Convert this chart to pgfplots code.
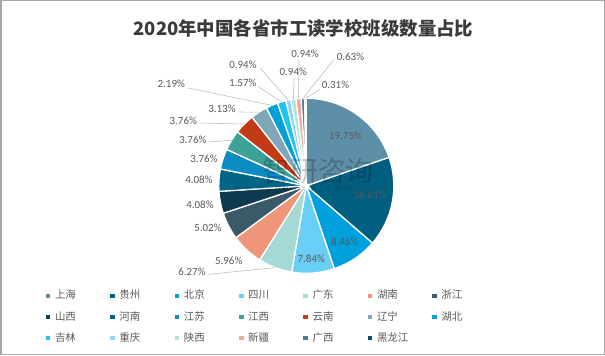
\documentclass[border=0pt]{standalone}
\usepackage{pgfplots}
\pgfplotsset{compat=1.18}
\usepackage{pgfplotstable}
\usepackage{fontspec}
\setmainfont{Carlito}
\newfontfamily\cjk{Noto Sans CJK SC}
\definecolor{c0}{HTML}{5E8FA9}
\definecolor{c1}{HTML}{005F80}
\definecolor{c2}{HTML}{00A0DC}
\definecolor{c3}{HTML}{6ACFF6}
\definecolor{c4}{HTML}{A4D9D6}
\definecolor{c5}{HTML}{EE957A}
\definecolor{c6}{HTML}{3B5A69}
\definecolor{c7}{HTML}{0D3A4F}
\definecolor{c8}{HTML}{006587}
\definecolor{c9}{HTML}{0B8DC4}
\definecolor{c10}{HTML}{3DA198}
\definecolor{c11}{HTML}{C23B16}
\definecolor{c12}{HTML}{7EA7BA}
\definecolor{c13}{HTML}{00A0D8}
\definecolor{c14}{HTML}{1DC3F3}
\definecolor{c15}{HTML}{8CD8F7}
\definecolor{c16}{HTML}{B6E1DF}
\definecolor{c17}{HTML}{F3AA95}
\definecolor{c18}{HTML}{4E7B8F}
\definecolor{c19}{HTML}{02516E}
\definecolor{labgray}{HTML}{595959}
\definecolor{linegray}{HTML}{BFBFBF}
\definecolor{titlegray}{HTML}{3A3A3A}
\definecolor{framegray}{HTML}{A6A6A6}
\newcommand\labfont{\fontsize{11}{12}\selectfont}
\pgfplotstableread[col sep=comma]{
val,lx,ly,sx,sy,hl
19.75,345.5,135.7,0,0,0
16.61,370,195,0,0,0
8.46,344.7,241.7,0,0,0
7.84,311.3,259,0,0,0
6.27,192,271.7,208.7,274.3,1
5.96,228.7,260.7,0,0,0
5.02,208,228,0,0,0
4.08,200,205,0,0,0
4.08,199,180,0,0,0
3.76,204,159,0,0,0
3.76,192.8,140,208.3,142,1
3.76,183.3,120.7,200,123,1
3.13,222,109.3,238.3,112,1
2.19,171.3,84,188.3,88,1
1.57,242.8,83.3,258.3,86.7,1
0.94,243,65,260,68,1
0.94,293.3,72.3,294,78,1
0.94,305,54.3,299,60,1
0.63,350.5,56.7,333,60.7,1
0.31,335.5,85,320,89.3,1
}\piedata
\begin{document}
\begin{tikzpicture}
\begin{axis}[x=1bp,y=1bp,xmin=0,xmax=605,ymin=0,ymax=355,
  hide axis, clip=false,
  legend columns=7,
  legend cell align=left,
  legend image code/.code={\fill[#1,draw=none] (0bp,-2.3bp) rectangle (4.6bp,2.3bp);},
  legend style={at={(0.07554,0.1803)}, anchor=north west, draw=none, fill=none,
    inner sep=0pt, outer sep=0pt,
    font=\cjk\fontsize{10.5}{12}\selectfont, text=labgray,
    row sep=11bp,
    nodes={inner xsep=0pt, inner ysep=0pt, text width=50bp, text height=8bp, text depth=2bp, align=left},
    /tikz/every odd column/.append style={column sep=4.7bp},
    /tikz/every even column/.append style={column sep=5.1bp}},
]
\def\cum{0}
\pgfplotsforeachungrouped \i in {0,...,19}{%
  \pgfplotstablegetelem{\i}{val}\of\piedata \let\pv\pgfplotsretval
  \pgfmathsetmacro\sa{90-3.6*\cum}%
  \pgfmathsetmacro\ea{90-3.6*(\cum+\pv)}%
  \edef\tmp{\noexpand\fill[c\i,draw=white,line width=1.3bp] (axis cs:306.3,169.2) -- ++(\sa:87.5bp) arc[start angle=\sa,end angle=\ea,radius=87.5bp] -- cycle;}%
  \tmp
  \pgfmathsetmacro\cum{\cum+\pv}%
}
\node[font=\cjk\fontsize{28}{30}\selectfont, text=black, text opacity=0.22] at (axis cs:318,184) {智研咨询};
\node[font=\fontsize{9.5}{12}\selectfont\addfontfeature{LetterSpace=50}, text=black, text opacity=0.22] at (axis cs:293,166.5) {www.chyxx.com};
\def\cum{0}
\pgfplotsforeachungrouped \i in {0,...,19}{%
  \pgfplotstablegetelem{\i}{val}\of\piedata \let\pv\pgfplotsretval
  \pgfplotstablegetelem{\i}{lx}\of\piedata \let\plx\pgfplotsretval
  \pgfplotstablegetelem{\i}{ly}\of\piedata \let\ply\pgfplotsretval
  \pgfplotstablegetelem{\i}{sx}\of\piedata \let\psx\pgfplotsretval
  \pgfplotstablegetelem{\i}{sy}\of\piedata \let\psy\pgfplotsretval
  \pgfplotstablegetelem{\i}{hl}\of\piedata \let\phl\pgfplotsretval
  \pgfmathsetmacro\ma{90-3.6*(\cum+\pv/2)}%
  \pgfmathsetmacro\ex{306.3+87.5*cos(\ma)}%
  \pgfmathsetmacro\ey{169.2+87.5*sin(\ma)}%
  \pgfmathsetmacro\LY{355-\ply}%
  \pgfmathsetmacro\SY{355-\psy}%
  \ifnum\phl=1
    \edef\tmp{\noexpand\draw[linegray,line width=0.6bp] (axis cs:\psx,\SY) -- (axis cs:\ex,\ey);}%
    \tmp
  \fi
  \edef\tmp{\noexpand\node[font=\noexpand\labfont,text=labgray,inner sep=0pt] at (axis cs:\plx,\LY) {\pv\%};}%
  \tmp
  \pgfmathsetmacro\cum{\cum+\pv}%
}
\node[font=\cjk\bfseries\fontsize{18.5}{20}\selectfont, text=titlegray] at (axis cs:303.5,327) {2020年中国各省市工读学校班级数量占比};
\draw[framegray,line width=1.5bp] (axis cs:0.75,0.75) rectangle (axis cs:604.25,354.25);
\addlegendimage{fill=c0}\addlegendentry{上海}
\addlegendimage{fill=c1}\addlegendentry{贵州}
\addlegendimage{fill=c2}\addlegendentry{北京}
\addlegendimage{fill=c3}\addlegendentry{四川}
\addlegendimage{fill=c4}\addlegendentry{广东}
\addlegendimage{fill=c5}\addlegendentry{湖南}
\addlegendimage{fill=c6}\addlegendentry{浙江}
\addlegendimage{fill=c7}\addlegendentry{山西}
\addlegendimage{fill=c8}\addlegendentry{河南}
\addlegendimage{fill=c9}\addlegendentry{江苏}
\addlegendimage{fill=c10}\addlegendentry{江西}
\addlegendimage{fill=c11}\addlegendentry{云南}
\addlegendimage{fill=c12}\addlegendentry{辽宁}
\addlegendimage{fill=c13}\addlegendentry{湖北}
\addlegendimage{fill=c14}\addlegendentry{吉林}
\addlegendimage{fill=c15}\addlegendentry{重庆}
\addlegendimage{fill=c16}\addlegendentry{陕西}
\addlegendimage{fill=c17}\addlegendentry{新疆}
\addlegendimage{fill=c18}\addlegendentry{广西}
\addlegendimage{fill=c19}\addlegendentry{黑龙江}
\end{axis}
\end{tikzpicture}
\end{document}
